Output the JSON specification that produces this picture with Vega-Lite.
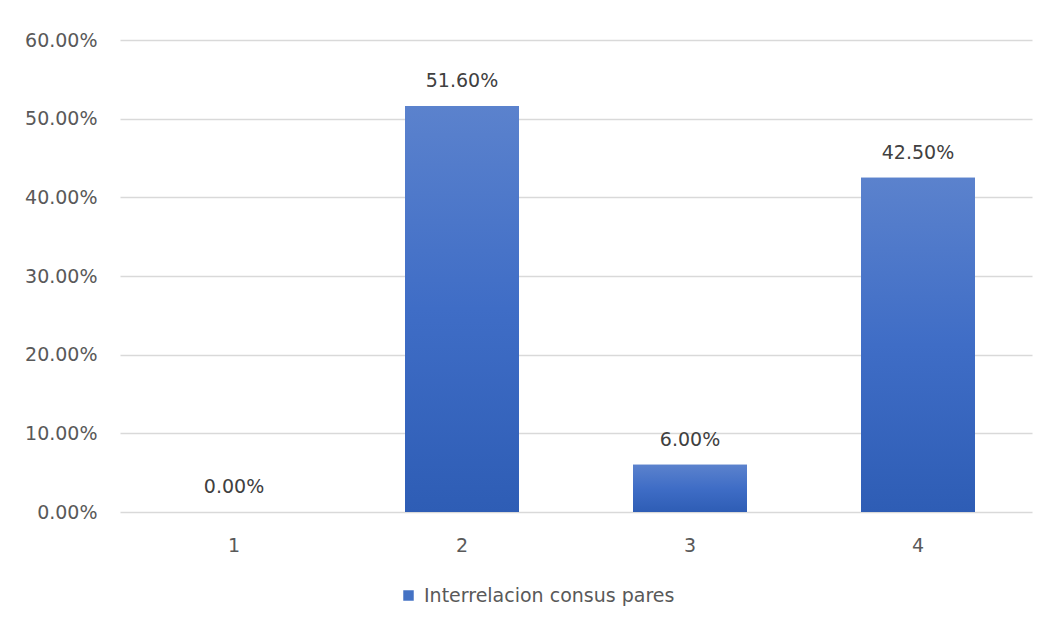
{
  "$schema": "https://vega.github.io/schema/vega-lite/v6.json",
  "autosize": "none",
  "width": 912,
  "height": 472,
  "padding": {"left": 120, "top": 40, "right": 20, "bottom": 116},
  "background": "white",
  "config": {"view": {"stroke": null}},
  "data": {"values": [
    {"cat": "1", "value": 0.0, "serie": "Interrelacion consus pares"},
    {"cat": "2", "value": 0.516, "serie": "Interrelacion consus pares"},
    {"cat": "3", "value": 0.06, "serie": "Interrelacion consus pares"},
    {"cat": "4", "value": 0.425, "serie": "Interrelacion consus pares"}
  ]},
  "encoding": {
    "x": {"field": "cat", "type": "nominal", "sort": null,
      "scale": {"paddingInner": 0.5, "paddingOuter": 0.25},
      "axis": {"title": null, "labelAngle": 0, "ticks": false, "domain": false, "grid": false,
        "labelPadding": 24, "labelFontSize": 19, "labelColor": "#595959", "labelFont": "DejaVu Sans"}},
    "y": {"field": "value", "type": "quantitative",
      "scale": {"domain": [0, 0.6]},
      "axis": {"title": null, "format": ".2%", "values": [0, 0.1, 0.2, 0.3, 0.4, 0.5, 0.6],
        "ticks": false, "domain": false, "gridColor": "#d9d9d9", "gridWidth": 1.5,
        "labelPadding": 23, "labelFontSize": 19, "labelColor": "#595959", "labelFont": "DejaVu Sans"}}
  },
  "layer": [
    {
      "mark": {"type": "bar"},
      "encoding": {
        "color": {"field": "serie", "type": "nominal",
          "scale": {"range": ["#4472c4"]},
          "legend": {"title": null, "orient": "none", "legendX": 279, "legendY": 546,
            "symbolType": "square", "symbolSize": 110, "symbolStrokeWidth": 0, "labelLimit": 400,
            "labelFontSize": 19, "labelColor": "#595959", "labelFont": "DejaVu Sans", "labelOffset": 6}}
      }
    },
    {
      "mark": {"type": "bar",
        "fill": {"gradient": "linear", "x1": 0, "y1": 0, "x2": 0, "y2": 1,
          "stops": [{"offset": 0, "color": "#5b82cd"}, {"offset": 0.5, "color": "#3f6dc6"}, {"offset": 1, "color": "#2e5db5"}]}}
    },
    {
      "mark": {"type": "text", "dy": -25, "fontSize": 19, "font": "DejaVu Sans", "color": "#404040"},
      "encoding": {"text": {"field": "value", "type": "quantitative", "format": ".2%"}}
    }
  ]
}
